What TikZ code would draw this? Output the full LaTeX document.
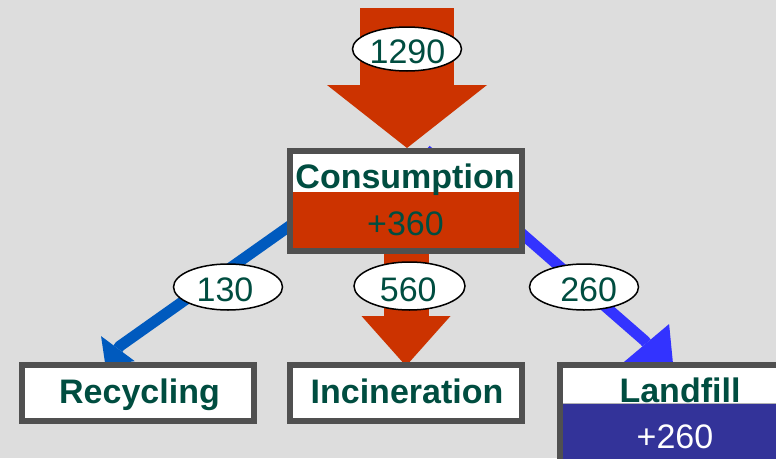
\documentclass[tikz,border=0pt]{standalone}
\usepackage{fontspec}
\setmainfont{Liberation Sans}
\usetikzlibrary{arrows.meta,shapes.geometric,calc}
\definecolor{bgcol}{RGB}{221,221,221}
\definecolor{flowred}{RGB}{204,51,0}
\definecolor{framegray}{RGB}{80,80,80}
\definecolor{labelgreen}{RGB}{0,77,64}
\definecolor{recblue}{RGB}{0,90,190}
\definecolor{landblue}{RGB}{51,51,255}
\definecolor{landnavy}{RGB}{51,51,153}
\pgfdeclarelayer{canvas}
\pgfdeclarelayer{flows}
\pgfsetlayers{canvas,flows,main}

\begin{document}
\begin{tikzpicture}[x=1pt,y=-1pt,
  boxframe/.style={draw=framegray,line width=6pt,fill=white,inner sep=0pt,minimum width=232pt},
  txt/.style={font=\fontsize{34}{40}\selectfont,text=labelgreen,inner sep=0pt,anchor=base},
  boldtxt/.style={txt,font=\fontsize{34}{40}\selectfont\bfseries},
  amount/.style={ellipse,draw=black,line width=1.5pt,fill=white,inner sep=0pt,minimum width=109pt,minimum height=46pt},
]
\useasboundingbox (0,0) rectangle (776,458);
\clip (0,0) rectangle (776,458);
\begin{pgfonlayer}{canvas}
  \fill[bgcol] (0,0) rectangle (776,458);
\end{pgfonlayer}

% process boxes
\node[boxframe,minimum height=100pt] (cons) at (406,201) {};
\fill[flowred] (293,192) rectangle (519,248);
\node[boldtxt] (consName) at (405,188) {Consumption};
\node[txt] (consGain) at (405.5,235) {+360};

\node[boxframe,minimum height=56pt] (rec) at (138,393) {};
\node[boldtxt] (recName) at (139.5,403) {Recycling};

\node[boxframe,minimum height=56pt] (inc) at (406,393) {};
\node[boldtxt] (incName) at (407,403) {Incineration};

\node[boxframe,minimum height=100pt] (land) at (676,415) {};
\fill[landnavy] (563,403) rectangle (789,462);
\draw[gray!60,line width=1pt] (563,403) -- (789,403);
\node[boldtxt] (landName) at (680,402) {Landfill};
\node[txt,text=white] (landGain) at (675,448) {+260};

% flow amounts
\node[amount,minimum height=44pt] (a1290) at (407,49) {};
\node[txt] (t1290) at (407.5,63.3) {1290};
\node[amount] (a130) at (228,287) {};
\node[txt] (t130) at (225,301.7) {130};
\node[amount,minimum width=111pt,minimum height=48pt] (a560) at (409.5,286) {};
\node[txt] (t560) at (408.3,301.7) {560};
\node[amount] (a260) at (584,287) {};
\node[txt] (t260) at (588.7,301.7) {260};

% flows, drawn under the boxes
\begin{pgfonlayer}{flows}
  \coordinate (src) at (407,8);
  \draw[flowred,line width=94pt,-{Triangle[width=160pt,length=63pt,line width=0pt]}]
    (src) -- (src |- cons.north);
  \draw[flowred,line width=45pt,-{Triangle[width=89pt,length=50pt,line width=0pt]}]
    (cons.south) -- ([yshift=-4pt]inc.north);
  \draw[recblue,line width=11pt,-{Triangle[width=42pt,length=21pt,line width=0pt]}]
    ($(cons.north)+(-16,7)$) -- ($(rec.north west)+(100.8,-15.9)$) -- ($(rec.north west)+(86.4,3.5)$);
  \draw[landblue,line width=11pt,-{Triangle[width=59pt,length=43pt,line width=0pt]}]
    ($(cons.north)+(20,2)$) -- ($(land.north west)+(87.6,-21.3)$) -- ($(land.north west)+(117.2,13.9)$);
\end{pgfonlayer}
\end{tikzpicture}
\end{document}
